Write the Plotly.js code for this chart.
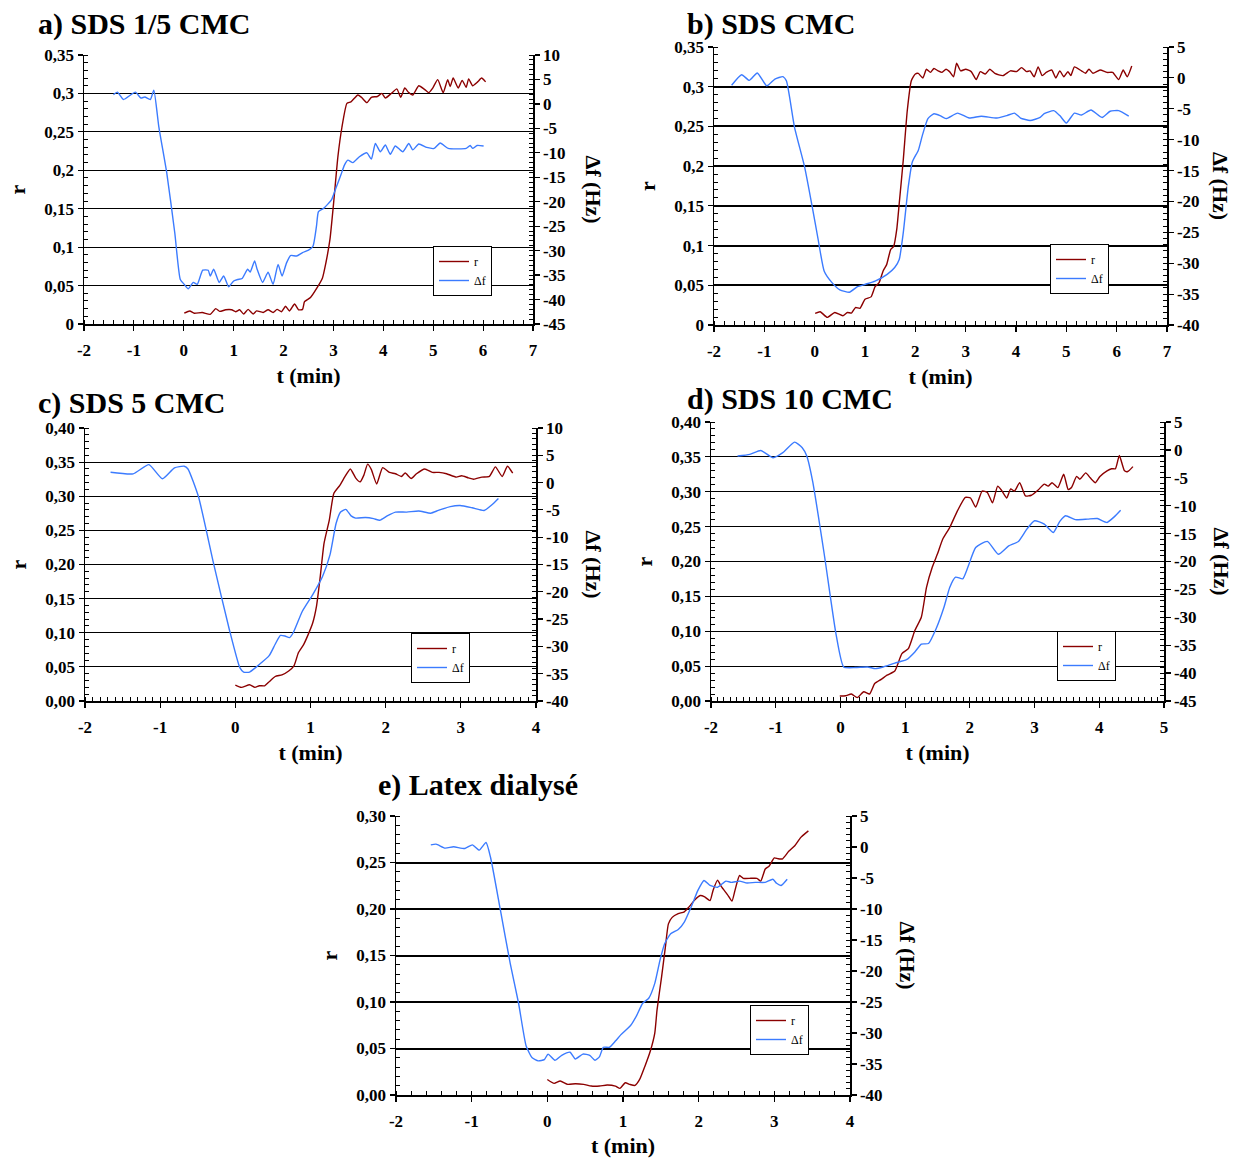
<!DOCTYPE html>
<html>
<head>
<meta charset="utf-8">
<script src="https://cdn.plot.ly/plotly-3.0.1.min.js"></script>
<style>html,body{margin:0;padding:0;background:#fff;}#chart{width:1236px;height:1158px;}</style>
</head>
<body>
<div id="chart"></div>
<script>
// ---------- DATA: [t (min), value] ----------
// a) SDS 1/5 CMC
const aR = [[0.01,0.014],[0.12,0.017],[0.21,0.014],[0.37,0.015],[0.53,0.0125],[0.64,0.020],[0.72,0.0164],[0.84,0.0185],[0.96,0.0185],[1.04,0.016],[1.12,0.0185],[1.20,0.013],[1.29,0.019],[1.39,0.013],[1.46,0.017],[1.59,0.015],[1.69,0.0185],[1.79,0.015],[1.87,0.019],[1.96,0.016],[2.04,0.023],[2.12,0.017],[2.22,0.026],[2.30,0.0185],[2.38,0.019],[2.42,0.029],[2.54,0.0345],[2.66,0.046],[2.78,0.060],[2.85,0.080],[2.93,0.110],[3.01,0.162],[3.09,0.218],[3.17,0.256],[3.27,0.287],[3.35,0.289],[3.49,0.298],[3.56,0.295],[3.67,0.288],[3.76,0.295],[3.88,0.296],[3.97,0.300],[4.04,0.294],[4.16,0.300],[4.27,0.306],[4.35,0.295],[4.43,0.307],[4.51,0.301],[4.59,0.298],[4.71,0.310],[4.83,0.305],[4.91,0.301],[4.99,0.307],[5.09,0.318],[5.20,0.301],[5.29,0.318],[5.34,0.309],[5.40,0.320],[5.50,0.307],[5.58,0.317],[5.66,0.308],[5.71,0.319],[5.79,0.310],[5.89,0.315],[5.97,0.320],[6.05,0.315]];
const aDf = [[-1.41,1.9],[-1.33,2.4],[-1.21,0.9],[-0.97,2.4],[-0.86,1.2],[-0.78,1.4],[-0.67,0.9],[-0.60,2.8],[-0.50,-4.7],[-0.34,-14.2],[-0.18,-26.4],[-0.07,-35.9],[0.01,-36.9],[0.09,-37.8],[0.19,-36.5],[0.27,-36.9],[0.38,-34.0],[0.49,-34.0],[0.53,-35.2],[0.60,-33.8],[0.71,-36.5],[0.80,-35.2],[0.90,-37.4],[1.00,-36.2],[1.08,-35.9],[1.17,-35.7],[1.28,-33.8],[1.33,-34.4],[1.42,-32.1],[1.47,-33.8],[1.58,-36.5],[1.69,-34.4],[1.79,-36.9],[1.89,-32.8],[1.97,-35.2],[2.06,-32.5],[2.14,-31.0],[2.26,-31.1],[2.38,-30.4],[2.50,-29.9],[2.59,-29.1],[2.66,-25.0],[2.70,-22.0],[2.81,-21.3],[2.96,-19.6],[3.05,-17.2],[3.15,-14.5],[3.22,-12.5],[3.29,-11.5],[3.39,-12.0],[3.52,-10.8],[3.67,-10.0],[3.76,-11.3],[3.84,-8.1],[3.94,-9.8],[4.04,-8.4],[4.14,-10.3],[4.24,-8.6],[4.39,-9.8],[4.51,-8.1],[4.59,-9.4],[4.71,-8.2],[4.87,-8.9],[5.02,-9.1],[5.14,-8.0],[5.30,-9.1],[5.50,-9.2],[5.66,-9.1],[5.74,-8.5],[5.79,-9.1],[5.88,-8.5],[6.01,-8.6]];
// b) SDS CMC
const bR = [[0.01,0.0146],[0.11,0.0167],[0.25,0.0096],[0.40,0.0158],[0.56,0.0117],[0.65,0.0158],[0.73,0.015],[0.81,0.022],[0.90,0.021],[1.00,0.0325],[1.12,0.0354],[1.20,0.0483],[1.28,0.0533],[1.36,0.068],[1.43,0.076],[1.51,0.095],[1.57,0.099],[1.63,0.12],[1.68,0.153],[1.76,0.2075],[1.84,0.27],[1.92,0.3075],[2.00,0.316],[2.06,0.3167],[2.15,0.311],[2.22,0.322],[2.30,0.318],[2.37,0.323],[2.45,0.32],[2.53,0.318],[2.61,0.322],[2.68,0.319],[2.76,0.3125],[2.82,0.3296],[2.90,0.32],[3.00,0.322],[3.11,0.319],[3.21,0.309],[3.29,0.319],[3.39,0.316],[3.48,0.322],[3.58,0.3167],[3.74,0.314],[3.89,0.32],[4.01,0.319],[4.11,0.324],[4.21,0.319],[4.28,0.32],[4.36,0.3125],[4.44,0.325],[4.52,0.314],[4.60,0.318],[4.71,0.321],[4.79,0.311],[4.87,0.32],[4.95,0.3125],[5.03,0.319],[5.09,0.314],[5.16,0.325],[5.30,0.32],[5.38,0.317],[5.45,0.322],[5.53,0.317],[5.67,0.321],[5.81,0.318],[5.92,0.318],[6.04,0.309],[6.13,0.321],[6.21,0.3125],[6.30,0.326]];
const bDf = [[-1.65,-1.2],[-1.45,0.5],[-1.30,-0.4],[-1.14,0.8],[-0.95,-1.3],[-0.79,-0.2],[-0.63,0.2],[-0.56,-0.5],[-0.40,-8.0],[-0.20,-14.4],[-0.05,-20.8],[0.07,-26.2],[0.19,-31.3],[0.34,-33.1],[0.50,-34.3],[0.69,-34.7],[0.85,-33.8],[1.01,-33.4],[1.20,-32.9],[1.44,-31.8],[1.59,-30.7],[1.68,-29.4],[1.76,-25.1],[1.86,-17.6],[1.94,-13.6],[2.06,-11.7],[2.14,-9.3],[2.25,-6.6],[2.37,-5.8],[2.49,-6.1],[2.61,-6.6],[2.84,-5.7],[3.07,-6.5],[3.31,-6.2],[3.62,-6.5],[3.82,-6.1],[3.97,-5.7],[4.09,-6.5],[4.28,-6.9],[4.48,-6.4],[4.56,-5.8],[4.75,-5.3],[4.87,-6.1],[5.00,-7.3],[5.16,-5.7],[5.30,-6.0],[5.49,-5.2],[5.71,-6.4],[5.87,-5.4],[6.04,-5.3],[6.24,-6.2]];
// c) SDS 5 CMC
const cR = [[0.00,0.0233],[0.08,0.0199],[0.19,0.0238],[0.26,0.0199],[0.32,0.0223],[0.39,0.0223],[0.45,0.0282],[0.53,0.0359],[0.62,0.0383],[0.71,0.044],[0.78,0.0515],[0.84,0.071],[0.91,0.083],[0.97,0.0976],[1.03,0.1146],[1.08,0.139],[1.13,0.1825],[1.18,0.231],[1.25,0.265],[1.31,0.304],[1.39,0.316],[1.46,0.329],[1.53,0.340],[1.60,0.327],[1.66,0.321],[1.71,0.331],[1.76,0.347],[1.81,0.339],[1.88,0.318],[1.96,0.342],[2.05,0.335],[2.13,0.333],[2.21,0.329],[2.26,0.334],[2.34,0.326],[2.41,0.333],[2.52,0.340],[2.62,0.335],[2.71,0.335],[2.81,0.333],[2.94,0.328],[3.01,0.330],[3.10,0.327],[3.17,0.325],[3.28,0.328],[3.38,0.329],[3.46,0.343],[3.55,0.329],[3.62,0.344],[3.69,0.334]];
const cDf = [[-1.66,1.9],[-1.36,1.6],[-1.15,3.3],[-0.97,0.7],[-0.81,2.7],[-0.68,3.0],[-0.63,2.5],[-0.49,-2.6],[-0.29,-14.8],[-0.08,-26.9],[0.06,-33.9],[0.11,-34.7],[0.19,-34.7],[0.32,-33.3],[0.45,-31.7],[0.53,-29.6],[0.60,-28.0],[0.66,-28.1],[0.72,-28.4],[0.77,-27.5],[0.89,-23.6],[1.03,-20.5],[1.16,-17.2],[1.26,-13.2],[1.34,-7.5],[1.40,-5.4],[1.47,-4.9],[1.54,-6.1],[1.60,-6.5],[1.73,-6.4],[1.84,-6.6],[1.92,-6.9],[2.02,-6.1],[2.13,-5.4],[2.28,-5.4],[2.44,-5.2],[2.60,-5.6],[2.70,-5.1],[2.86,-4.4],[2.99,-4.2],[3.15,-4.6],[3.31,-5.1],[3.41,-4.1],[3.50,-2.9]];
// d) SDS 10 CMC
const dR = [[-0.01,0.0071],[0.08,0.0076],[0.17,0.010],[0.26,0.0048],[0.36,0.0133],[0.45,0.010],[0.53,0.025],[0.63,0.031],[0.72,0.037],[0.84,0.043],[0.95,0.068],[1.05,0.075],[1.15,0.101],[1.25,0.120],[1.33,0.163],[1.42,0.192],[1.50,0.211],[1.58,0.232],[1.69,0.249],[1.81,0.273],[1.93,0.292],[2.01,0.291],[2.09,0.278],[2.19,0.301],[2.27,0.299],[2.35,0.284],[2.43,0.308],[2.49,0.302],[2.57,0.291],[2.63,0.304],[2.69,0.301],[2.77,0.313],[2.86,0.294],[2.95,0.295],[3.06,0.303],[3.15,0.311],[3.21,0.308],[3.27,0.313],[3.36,0.306],[3.45,0.325],[3.52,0.303],[3.57,0.306],[3.65,0.322],[3.70,0.318],[3.79,0.327],[3.86,0.320],[3.94,0.313],[4.01,0.322],[4.12,0.330],[4.19,0.333],[4.25,0.333],[4.31,0.352],[4.39,0.330],[4.44,0.329],[4.52,0.336]];
const dDf = [[-1.59,-1.1],[-1.40,-0.8],[-1.23,-0.1],[-1.04,-1.4],[-0.89,-0.5],[-0.71,1.4],[-0.59,0.4],[-0.52,-1.1],[-0.43,-5.6],[-0.25,-18.7],[-0.07,-32.9],[0.05,-38.9],[0.23,-39.0],[0.42,-38.9],[0.54,-39.2],[0.66,-38.9],[0.84,-38.2],[1.02,-37.6],[1.15,-36.2],[1.25,-34.8],[1.36,-34.7],[1.48,-32.0],[1.60,-28.2],[1.69,-24.6],[1.78,-22.8],[1.89,-23.1],[1.97,-21.0],[2.09,-17.5],[2.27,-16.4],[2.44,-18.7],[2.60,-17.2],[2.75,-16.4],[2.88,-14.2],[3.00,-12.7],[3.15,-13.3],[3.29,-14.8],[3.39,-12.8],[3.48,-11.8],[3.63,-12.5],[3.82,-12.4],[3.97,-12.3],[4.12,-13.0],[4.23,-12.0],[4.33,-10.8]];
// e) Latex dialysé
const eR = [[0.00,0.0167],[0.09,0.0125],[0.17,0.015],[0.27,0.0114],[0.37,0.0121],[0.48,0.0114],[0.58,0.0096],[0.69,0.0096],[0.79,0.0107],[0.90,0.0096],[0.96,0.0071],[1.03,0.0132],[1.09,0.0114],[1.16,0.0103],[1.22,0.0167],[1.29,0.031],[1.36,0.047],[1.42,0.0666],[1.45,0.0916],[1.51,0.127],[1.56,0.159],[1.60,0.184],[1.65,0.191],[1.73,0.195],[1.81,0.197],[1.87,0.202],[1.94,0.209],[2.02,0.2145],[2.08,0.213],[2.15,0.209],[2.19,0.220],[2.25,0.231],[2.30,0.224],[2.38,0.2155],[2.44,0.2085],[2.48,0.220],[2.54,0.236],[2.59,0.233],[2.69,0.233],[2.77,0.233],[2.82,0.230],[2.88,0.243],[2.93,0.246],[3.00,0.255],[3.05,0.254],[3.11,0.254],[3.19,0.262],[3.27,0.268],[3.35,0.277],[3.45,0.284]];
const eDf = [[-1.54,0.35],[-1.47,0.46],[-1.35,-0.18],[-1.24,0.03],[-1.09,-0.24],[-0.99,0.35],[-0.90,-0.5],[-0.81,0.72],[-0.75,-1.7],[-0.62,-10.2],[-0.49,-18.8],[-0.38,-25.2],[-0.28,-32.1],[-0.20,-34.0],[-0.12,-34.5],[-0.04,-34.3],[0.01,-33.4],[0.10,-34.4],[0.19,-33.6],[0.30,-33.1],[0.37,-34.2],[0.47,-33.4],[0.56,-33.6],[0.63,-34.4],[0.69,-33.8],[0.74,-32.3],[0.82,-32.3],[0.90,-31.3],[0.97,-30.3],[1.10,-28.8],[1.18,-27.2],[1.26,-25.2],[1.34,-24.4],[1.42,-22.0],[1.49,-18.2],[1.55,-15.6],[1.63,-14.0],[1.73,-13.3],[1.81,-12.1],[1.91,-9.4],[1.99,-7.0],[2.07,-5.4],[2.15,-6.2],[2.25,-6.5],[2.36,-5.5],[2.43,-5.7],[2.54,-5.5],[2.64,-5.8],[2.75,-5.7],[2.88,-5.7],[2.98,-5.2],[3.03,-5.85],[3.09,-6.2],[3.17,-5.2]];

// ---------- TICKS ----------
const xTicks9 = [-2,-1,0,1,2,3,4,5,6,7];
const xText9  = ['-2','-1','0','1','2','3','4','5','6','7'];
const xTicks6 = [-2,-1,0,1,2,3,4];
const xText6  = ['-2','-1','0','1','2','3','4'];
const xTicks7 = [-2,-1,0,1,2,3,4,5];
const xText7  = ['-2','-1','0','1','2','3','4','5'];
const rTicks35 = [0,0.05,0.1,0.15,0.2,0.25,0.3,0.35];
const rText35  = ['0','0,05','0,1','0,15','0,2','0,25','0,3','0,35'];
const rTicks40 = [0,0.05,0.1,0.15,0.2,0.25,0.3,0.35,0.4];
const rText40  = ['0,00','0,05','0,10','0,15','0,20','0,25','0,30','0,35','0,40'];
const rTicks30 = [0,0.05,0.1,0.15,0.2,0.25,0.3];
const rText30  = ['0,00','0,05','0,10','0,15','0,20','0,25','0,30'];
const fTicksA = [-45,-40,-35,-30,-25,-20,-15,-10,-5,0,5,10];
const fTextA  = ['-45','-40','-35','-30','-25','-20','-15','-10','-5','0','5','10'];
const fTicksB = [-40,-35,-30,-25,-20,-15,-10,-5,0,5];
const fTextB  = ['-40','-35','-30','-25','-20','-15','-10','-5','0','5'];
const fTicksC = [-40,-35,-30,-25,-20,-15,-10,-5,0,5,10];
const fTextC  = ['-40','-35','-30','-25','-20','-15','-10','-5','0','5','10'];
const fTicksD = [-45,-40,-35,-30,-25,-20,-15,-10,-5,0,5];
const fTextD  = ['-45','-40','-35','-30','-25','-20','-15','-10','-5','0','5'];

const titles = ['a) SDS 1/5 CMC','b) SDS CMC','c) SDS 5 CMC','d) SDS 10 CMC','e) Latex dialysé'];

// ---------- STYLE / LAYOUT ----------
const FONT = 'Liberation Serif, Times New Roman, serif';
const W = 1236, H = 1158;
const px = v => v / W;
const py = v => 1 - v / H;
const RED = '#8B0000', BLUE = '#3B7BFF';

// panel geometry in pixels: x left/right, y top/bottom
const panels = [
  {R:aR, F:aDf, xl:84, xr:533, yt:55, yb:324, xr0:[-2,7], yr:[0,0.35], fr:[-45,10], xt:xTicks9, xx:xText9, xm:0.2, rt:rTicks35, rx:rText35, ft:fTicksA, fx:fTextA, gw:1, tx:36, ty:24, rtx:593, leg:[492,246]},
  {R:bR, F:bDf, xl:714, xr:1167, yt:47, yb:325, xr0:[-2,7], yr:[0,0.35], fr:[-40,5], xt:xTicks9, xx:xText9, xm:0.2, rt:rTicks35, rx:rText35, ft:fTicksB, fx:fTextB, gw:2, tx:685, ty:24, rtx:1221, leg:[1109,244]},
  {R:cR, F:cDf, xl:85, xr:536, yt:428, yb:701, xr0:[-2,4], yr:[0,0.4], fr:[-40,10], xt:xTicks6, xx:xText6, xm:0.1, rt:rTicks40, rx:rText40, ft:fTicksC, fx:fTextC, gw:1, tx:36, ty:403, rtx:593, leg:[470,633]},
  {R:dR, F:dDf, xl:711, xr:1164, yt:422, yb:701, xr0:[-2,5], yr:[0,0.4], fr:[-45,5], xt:xTicks7, xx:xText7, xm:0.1, rt:rTicks40, rx:rText40, ft:fTicksD, fx:fTextD, gw:1, tx:685, ty:399, rtx:1221, leg:[1116,631]},
  {R:eR, F:eDf, xl:396, xr:850, yt:816, yb:1095, xr0:[-2,4], yr:[0,0.3], fr:[-40,5], xt:xTicks6, xx:xText6, xm:0.2, rt:rTicks30, rx:rText30, ft:fTicksB, fx:fTextB, gw:2, tx:376, ty:785, rtx:907, leg:[809,1005]}
];

const tickFont = {family:FONT, size:17, color:'black', weight:700};
const titleFont = {family:FONT, size:22, color:'black', weight:700};

const traces = [];
const layout = {
  width:W, height:H, margin:{l:0,r:0,t:0,b:0},
  paper_bgcolor:'white', plot_bgcolor:'rgba(0,0,0,0)',
  font:{family:FONT, color:'black'},
  annotations:[], showlegend:true
};

panels.forEach((p, i) => {
  const n = i + 1;
  const xName = n === 1 ? 'xaxis' : 'xaxis' + n;
  const yL = 2*n - 1, yRn = 2*n;
  const yLName = yL === 1 ? 'yaxis' : 'yaxis' + yL;
  const yRName = 'yaxis' + yRn;
  const xRef = n === 1 ? 'x' : 'x' + n;
  const yLRef = yL === 1 ? 'y' : 'y' + yL;
  const yRRef = 'y' + yRn;
  const legName = n === 1 ? 'legend' : 'legend' + n;

  layout[xName] = {
    domain:[px(p.xl), px(p.xr)], anchor:yLRef, range:p.xr0,
    tickmode:'array', tickvals:p.xt, ticktext:p.xx,
    showline:true, linecolor:'black', linewidth:1.5,
    ticks:'outside', ticklen:5, tickwidth:1.2, tickcolor:'black',
    minor:{ticks:'inside', ticklen:4, tickwidth:1, tickcolor:'black', tick0:0, dtick:p.xm, showgrid:false},
    showgrid:false, zeroline:false, tickfont:tickFont, ticklabelstandoff:5,
    title:{text:'t (min)', font:titleFont, standoff:8}
  };
  layout[yLName] = {
    domain:[py(p.yb), py(p.yt)], anchor:xRef, range:p.yr,
    tickmode:'array', tickvals:p.rt, ticktext:p.rx,
    showline:true, linecolor:'black', linewidth:1.5,
    ticks:'outside', ticklen:5, tickwidth:1.2, tickcolor:'black',
    minor:{ticks:'inside', ticklen:4, tickwidth:1, tickcolor:'black', tick0:0, dtick:0.01, showgrid:false},
    showgrid:true, gridcolor:'black', gridwidth:p.gw, zeroline:false, tickfont:tickFont,
    title:{text:'r', font:titleFont, standoff:12}
  };
  layout[yRName] = {
    overlaying:yLRef, side:'right', anchor:xRef, range:p.fr,
    tickmode:'array', tickvals:p.ft, ticktext:p.fx,
    showline:true, linecolor:'black', linewidth:1.5,
    ticks:'outside', ticklen:5, tickwidth:1.2, tickcolor:'black',
    minor:{ticks:'inside', ticklen:4, tickwidth:1, tickcolor:'black', tick0:0, dtick:1, showgrid:false},
    showgrid:false, zeroline:false, tickfont:tickFont
  };
  layout[legName] = {
    x:px(p.leg[0]), y:py(p.leg[1]), xanchor:'right', yanchor:'top',
    bgcolor:'white', bordercolor:'black', borderwidth:1,
    font:{family:FONT, size:12, color:'black'}, itemwidth:30, tracegroupgap:0
  };

  traces.push({
    type:'scatter', mode:'lines', name:'r', legend:legName,
    x:p.R.map(d => d[0]), y:p.R.map(d => d[1]),
    xaxis:xRef, yaxis:yLRef,
    line:{color:RED, width:1.4, shape:'spline', smoothing:0.5}
  });
  traces.push({
    type:'scatter', mode:'lines', name:'Δf', legend:legName,
    x:p.F.map(d => d[0]), y:p.F.map(d => d[1]),
    xaxis:xRef, yaxis:yRRef,
    line:{color:BLUE, width:1.4, shape:'spline', smoothing:0.5}
  });

  // panel title
  layout.annotations.push({
    text:titles[i], xref:'paper', yref:'paper', x:px(p.tx), y:py(p.ty),
    xanchor:'left', yanchor:'middle', showarrow:false,
    font:{family:FONT, size:30, color:'black', weight:700}
  });
  // right axis title (reads top-to-bottom)
  layout.annotations.push({
    text:'Δf (Hz)', xref:'paper', yref:'paper', x:px(p.rtx), y:py((p.yt + p.yb) / 2),
    xanchor:'center', yanchor:'middle', showarrow:false, textangle:90,
    font:titleFont
  });
});

Plotly.newPlot('chart', traces, layout, {displayModeBar:false, staticPlot:true});
</script>
</body>
</html>
